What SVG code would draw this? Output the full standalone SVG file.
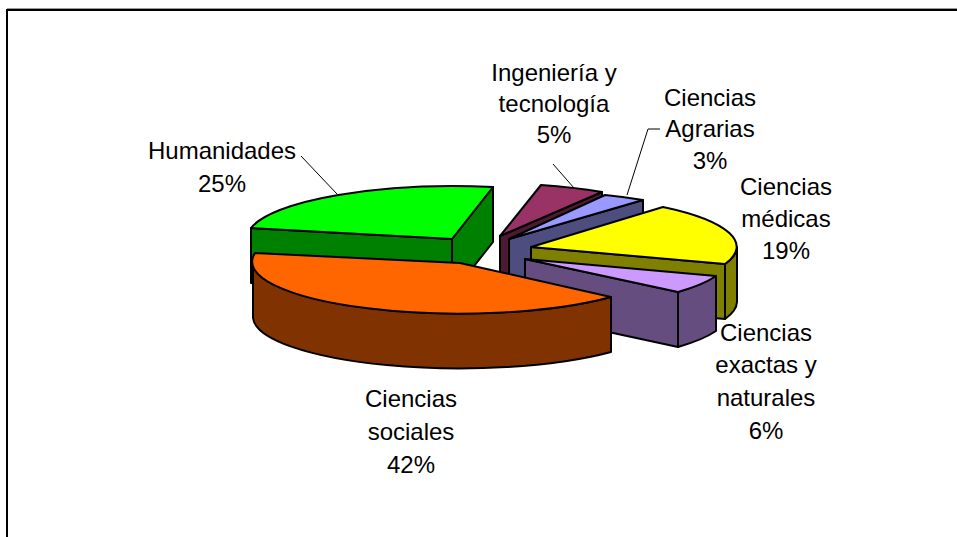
<svg xmlns="http://www.w3.org/2000/svg" width="957" height="537" viewBox="0 0 957 537">
<style>
.e{stroke:#000;stroke-width:2;stroke-linejoin:round}
.t{font-family:"Liberation Sans",Arial,sans-serif;font-size:24px;fill:#000;text-anchor:middle}
.l{stroke:#000;stroke-width:1;fill:none}
</style>
<rect width="957" height="537" fill="#fff"/>
<line x1="7" y1="8.5" x2="957" y2="8.5" stroke="#999" stroke-width="1"/>
<line x1="6" y1="10" x2="957" y2="10" stroke="#000" stroke-width="2"/>
<line x1="7" y1="9" x2="7" y2="537" stroke="#000" stroke-width="2"/>

<g id="ingenieria">
<path class="e" fill="#4D1A33" d="M500,236 L602,192 L602,247 L500,291 Z"/>
<path class="e" fill="#993366" d="M500,236 L541,185 A207,52 0 0 1 602,192 Z"/>
</g>
<g id="agrarias">
<path class="e" fill="#4D4D80" d="M509,239 L643,200 L643,255 L509,294 Z"/>
<path class="e" fill="#9999FF" d="M509,239 L605,195 A207,52 0 0 1 643,200 Z"/>
</g>
<g id="humanidades">
<path class="e" fill="#008000" d="M452,239 L251,228 L251,283 L452,294 Z"/>
<path class="e" fill="#008000" d="M452,239 L493,187 L493,242 L452,294 Z"/>
<path class="e" fill="#00FF00" d="M452,239 L251,228 A207,52 0 0 1 493,187 Z"/>
</g>
<g id="medicas">
<path class="e" fill="#808000" d="M737,247 A207,52 0 0 1 725,264 L725,319 A207,52 0 0 0 737,302 Z"/>
<path class="e" fill="#808000" d="M531,247 L725,264 L725,319 L531,302 Z"/>
<path class="e" fill="#FFFF00" d="M531,247 L663,207 A207,52 0 0 1 725,264 Z"/>
</g>
<g id="exactas">
<path class="e" fill="#664D80" d="M716,276 A207,52 0 0 1 678,292 L678,347 A207,52 0 0 0 716,331 Z"/>
<path class="e" fill="#664D80" d="M525,259 L678,292 L678,347 L525,314 Z"/>
<path class="e" fill="#CC99FF" d="M525,259 L716,276 A207,52 0 0 1 678,292 Z"/>
</g>
<g id="sociales">
<path class="e" fill="#803300" d="M611,297 A207,52 0 0 1 253,263 L253,318 A207,52 0 0 0 611,352 Z"/>
<path class="e" fill="#FF6600" d="M460,263 L611,297 A207,52 0 0 1 255,253 Z"/>
</g>

<g id="connectors">
<path class="l" d="M301,156 L337,194"/>
<path class="l" d="M553,164 L574,188"/>
<path class="l" d="M660,129 L648,129 L627,195"/>
</g>

<g id="labels">
<text class="t" x="222" y="159">Humanidades</text>
<text class="t" x="222" y="192">25%</text>
<text class="t" x="554" y="81">Ingeniería y</text>
<text class="t" x="554" y="112">tecnología</text>
<text class="t" x="554" y="143">5%</text>
<text class="t" x="710" y="106">Ciencias</text>
<text class="t" x="710" y="137">Agrarias</text>
<text class="t" x="710" y="169">3%</text>
<text class="t" x="786" y="195">Ciencias</text>
<text class="t" x="786" y="227">médicas</text>
<text class="t" x="786" y="259">19%</text>
<text class="t" x="766" y="341">Ciencias</text>
<text class="t" x="766" y="373">exactas y</text>
<text class="t" x="766" y="406">naturales</text>
<text class="t" x="766" y="439">6%</text>
<text class="t" x="411" y="407">Ciencias</text>
<text class="t" x="411" y="440">sociales</text>
<text class="t" x="411" y="473">42%</text>
</g>
</svg>
